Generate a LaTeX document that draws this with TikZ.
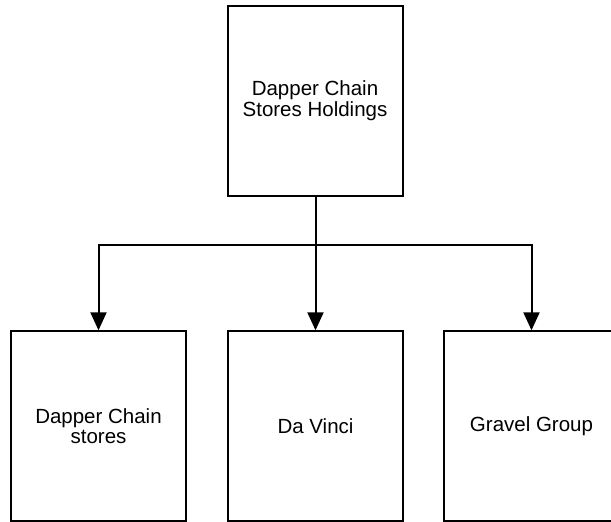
\documentclass[tikz,border=0pt]{standalone}
\usepackage{fontspec}
\setmainfont{Liberation Sans}
\usetikzlibrary{arrows.meta}
\begin{document}
\begin{tikzpicture}[x=1pt,y=-1pt,
  orgbox/.style={draw=black, line width=2pt, fill=white, minimum width=175pt, minimum height=190pt,
    inner sep=0pt, align=center, font=\fontsize{20.5pt}{20.7pt}\selectfont},
  link/.style={line width=2pt, -{Triangle[width=16pt,length=18pt]}}]
\useasboundingbox (0,0) rectangle (611,522);
\node[orgbox] (top) at (315,101) {Dapper Chain\\Stores Holdings};
\node[orgbox] (c1) at (98.5,426.3) {Dapper Chain\\stores};
\node[orgbox] (c2) at (315.5,426.3) {Da Vinci};
\node[orgbox] (c3) at (531.5,426.3) {Gravel Group};
\coordinate (bus) at (315.5,244.5);
\draw[link] (top.south -| bus) -- (bus) -| (c1.north);
\draw[link] (top.south -| bus) -- (bus) -| (c3.north);
\draw[link] (top.south -| bus) -- (c2.north);
\end{tikzpicture}
\end{document}
